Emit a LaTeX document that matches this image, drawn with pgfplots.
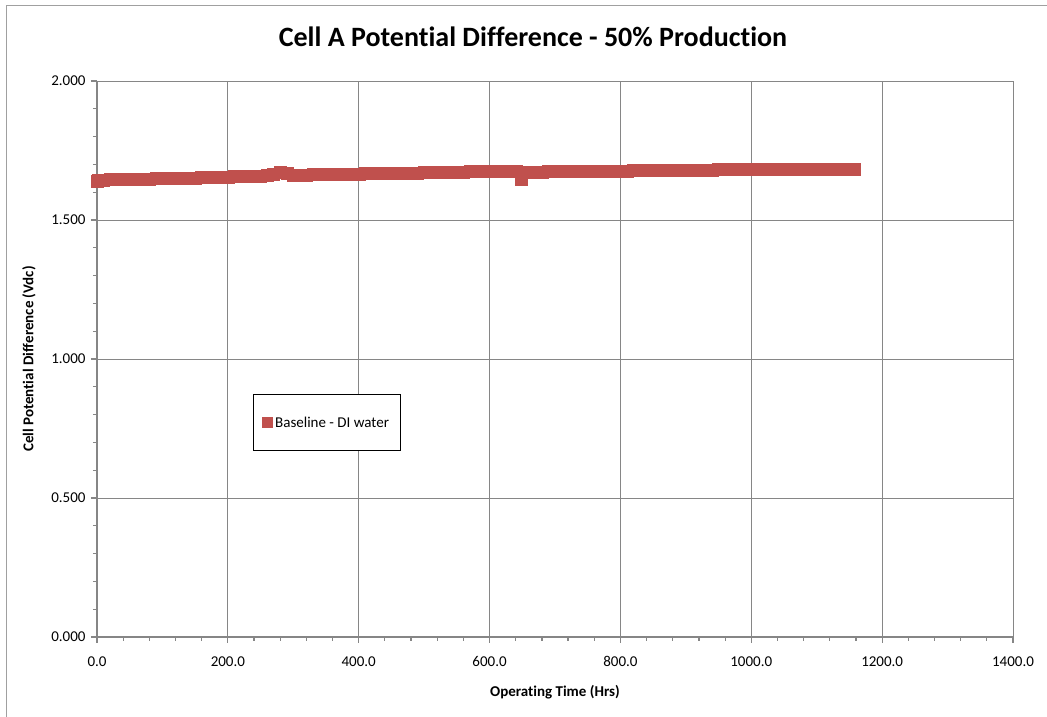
\documentclass[border=0pt]{standalone}
\usepackage{fontspec}
\setmainfont{Carlito}[Ligatures=CommonOff]
\usepackage{pgfplots}
\pgfplotsset{compat=1.18}
\definecolor{cellred}{HTML}{C0504D}
\definecolor{gridgray}{HTML}{868686}
\definecolor{framegray}{HTML}{A0A0A0}
\begin{document}
\begin{tikzpicture}[x=1pt,y=1pt]
\useasboundingbox (0,0) rectangle (1047,717);
\draw[framegray, line width=1pt] (6,0) -- (6,711) -- (1047,711);
\node[font=\bfseries\fontsize{28}{32}\selectfont] at (533,680) {Cell A Potential Difference - 50\% Production};
\begin{axis}[
  at={(97pt,80pt)}, anchor=south west,
  scale only axis, width=916pt, height=556pt,
  xmin=0, xmax=1400, ymin=0, ymax=2,
  xtick={0,200,400,600,800,1000,1200,1400},
  ytick={0,0.5,1,1.5,2},
  minor x tick num=4, minor y tick num=4,
  grid=major,
  major grid style={gridgray, line width=0.9pt},
  axis lines=left,
  axis line style={-, gridgray, line width=1.6pt},
  tick style={gridgray, line width=1.2pt},
  tick align=outside,
  major tick length=6pt, minor tick length=4pt,
  x tick label style={/pgf/number format/fixed, /pgf/number format/fixed zerofill, /pgf/number format/precision=1, /pgf/number format/1000 sep={}, /pgf/number format/assume math mode=true, yshift=-10pt},
  y tick label style={/pgf/number format/fixed, /pgf/number format/fixed zerofill, /pgf/number format/precision=3, /pgf/number format/assume math mode=true, xshift=-2pt},
  tick label style={font=\fontsize{15}{18}\selectfont, text=black},
  xlabel={Operating Time (Hrs)},
  ylabel={Cell Potential Difference  (Vdc)},
  label style={font=\bfseries\fontsize{15}{18}\selectfont},
  xlabel style={at={(axis description cs:0.5,-0.0989)}, anchor=center},
  ylabel style={at={(axis description cs:-0.0742,0.5)}, anchor=center},
  legend style={at={(0.1703,0.3345)}, anchor=south west, draw=black, line width=0.8pt,
    inner xsep=9pt, inner ysep=20pt, font=\fontsize{15}{18}\selectfont},
  legend image code/.code={\fill[cellred] (0pt,-5pt) rectangle (10pt,5pt);},
]
\addplot[only marks, mark=square*, mark size=6pt, color=cellred,
  mark options={draw=cellred, fill=cellred, line width=0.4pt}] table {
t v
0 1.638
2 1.643
10 1.644
20 1.645
30 1.645
40 1.646
50 1.647
60 1.647
70 1.648
80 1.648
90 1.649
100 1.650
110 1.650
120 1.651
130 1.651
140 1.652
150 1.652
160 1.653
170 1.654
180 1.654
190 1.655
200 1.655
210 1.656
220 1.656
230 1.657
240 1.657
250 1.658
260 1.660
270 1.666
280 1.672
290 1.669
300 1.662
310 1.662
320 1.662
330 1.663
340 1.663
350 1.664
360 1.664
370 1.665
380 1.665
390 1.666
400 1.666
410 1.667
420 1.667
430 1.667
440 1.668
450 1.668
460 1.669
470 1.669
480 1.670
490 1.670
500 1.671
510 1.671
520 1.671
530 1.672
540 1.672
550 1.673
560 1.673
570 1.674
580 1.675
590 1.675
600 1.675
610 1.675
620 1.675
630 1.675
640 1.674
648 1.648
655 1.671
660 1.672
670 1.673
680 1.673
690 1.674
700 1.674
710 1.674
720 1.675
730 1.675
740 1.675
750 1.676
760 1.676
770 1.676
780 1.677
790 1.677
800 1.677
810 1.677
820 1.678
830 1.678
840 1.678
850 1.678
860 1.679
870 1.679
880 1.679
890 1.679
900 1.679
910 1.680
920 1.680
930 1.680
940 1.680
950 1.681
960 1.681
970 1.681
980 1.681
990 1.681
1000 1.682
1010 1.682
1020 1.682
1030 1.682
1040 1.682
1050 1.683
1060 1.683
1070 1.683
1080 1.683
1090 1.683
1100 1.683
1110 1.684
1120 1.684
1130 1.684
1140 1.684
1150 1.684
1157 1.684
};
\addlegendentry{Baseline - DI water}
\end{axis}
\end{tikzpicture}
\end{document}
